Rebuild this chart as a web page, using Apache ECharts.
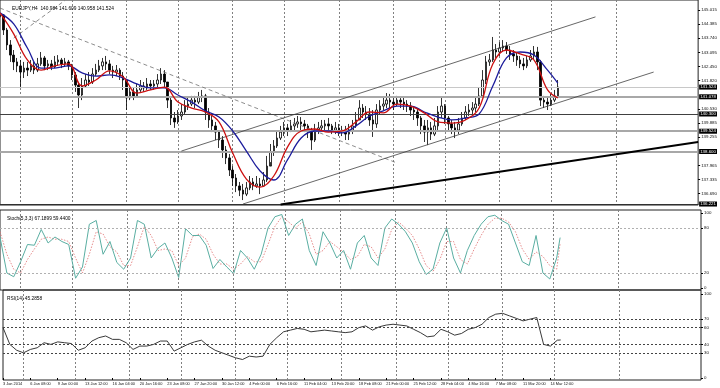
<!DOCTYPE html>
<html><head><meta charset="utf-8">
<script src="https://cdn.jsdelivr.net/npm/echarts@6/dist/echarts.min.js"></script>
<style>html,body{margin:0;padding:0;background:#fff}#c{width:720px;height:388px}</style>
</head><body><div id="c"></div>
<script>
// ---- tick labels ----
const timeLabels = ['3 Jan 2014','6 Jan 08:00','9 Jan 00:00','13 Jan 12:00','16 Jan 04:00','20 Jan 16:00','23 Jan 08:00','27 Jan 20:00','30 Jan 12:00','4 Feb 00:00','6 Feb 16:00','11 Feb 04:00','13 Feb 20:00','18 Feb 08:00','21 Feb 00:00','25 Feb 12:00','28 Feb 04:00','4 Mar 16:00','7 Mar 08:00','11 Mar 20:00','14 Mar 12:00'];
const priceTicks = [136.690,137.335,137.965,139.255,139.885,140.530,141.820,142.450,143.095,143.740,144.385,145.015];
const stochTicks = [0,20,80,100];
const rsiTicks = [0,30,40,60,70,100];
const gridCols = [6,21,37,52,68,83,99,115,130,146,161,180];

// ---- EURJPY H4 price bars ----
const firstOpen = 144.70;
const closes = [144.79,144.11,143.43,142.97,142.66,142.48,142.20,142.38,142.29,142.48,142.29,142.57,142.84,142.48,142.57,142.43,142.66,142.75,142.57,142.66,
142.48,142.07,141.61,141.16,141.57,141.84,141.75,142.11,142.29,142.48,142.66,142.57,142.29,142.20,142.29,142.02,141.84,141.03,141.30,141.12,
141.39,141.57,141.48,141.66,141.57,141.66,141.84,142.11,141.75,140.93,140.12,139.94,140.21,140.39,140.66,140.75,140.93,140.84,141.07,141.12,
140.39,140.03,139.76,139.48,139.12,138.67,138.31,137.76,137.40,137.04,136.85,136.67,136.95,137.22,137.04,137.13,137.04,137.31,137.94,138.58,
138.85,139.21,139.48,139.67,139.57,139.76,139.85,139.94,139.85,139.76,139.57,139.12,139.57,139.67,139.76,139.85,139.76,139.57,139.67,139.48,
139.57,139.39,139.57,139.76,140.03,140.57,140.39,140.30,140.03,139.85,140.48,140.66,140.75,140.93,140.84,140.75,140.93,140.84,140.75,140.66,
140.48,140.39,140.12,139.76,139.48,139.67,139.39,139.76,140.39,140.66,140.12,139.85,139.67,139.57,139.85,140.12,140.39,140.48,140.57,140.75,
141.12,141.84,142.66,142.75,143.20,143.11,143.29,143.38,143.20,143.02,142.93,142.75,142.57,142.48,142.75,142.93,143.11,142.66,140.93,140.84,
140.75,140.93,141.12,141.524];
const highs = [145.01,144.83,144.20,143.65,143.20,142.84,142.75,142.66,142.66,142.75,142.66,142.84,143.11,142.93,142.75,142.75,142.93,142.97,142.84,142.84,
142.75,142.57,142.20,141.75,141.93,142.11,142.20,142.38,142.57,142.75,142.84,142.93,142.75,142.48,142.52,142.38,142.20,141.84,141.57,141.48,
141.66,141.84,141.75,141.93,141.84,141.84,142.11,142.38,142.29,141.75,141.03,140.39,140.48,140.75,140.93,141.03,141.12,141.12,141.30,141.39,
141.21,140.57,140.21,139.94,139.57,139.30,138.85,138.49,137.94,137.58,137.22,137.13,137.22,137.49,137.40,137.49,137.40,137.67,138.40,138.94,
139.12,139.57,139.76,139.94,139.85,140.03,140.12,140.21,140.16,140.03,139.85,139.67,139.85,139.94,140.03,140.03,140.12,139.85,139.94,139.85,
139.76,139.76,139.85,140.03,140.39,140.93,140.75,140.66,140.57,140.48,140.75,140.93,141.03,141.25,141.21,141.03,141.12,141.07,141.03,140.93,
140.84,140.66,140.57,140.21,140.03,140.03,139.94,140.12,140.66,141.07,140.75,140.21,140.03,139.94,140.12,140.39,140.66,140.75,140.84,141.03,
141.48,142.29,142.93,143.02,143.79,143.47,143.56,143.65,143.56,143.38,143.20,143.11,142.93,142.84,142.93,143.20,143.38,143.34,142.75,141.12,
141.03,141.21,141.39,141.84];
const lows = [144.56,143.88,143.20,142.66,142.29,142.20,141.52,141.93,142.02,142.20,142.11,142.20,142.48,142.29,142.29,142.29,142.38,142.48,142.38,142.43,
142.29,141.84,141.30,140.57,140.93,141.48,141.57,141.66,142.02,142.20,142.29,142.29,142.11,141.93,142.02,141.84,141.39,140.48,140.93,140.93,
141.03,141.30,141.30,141.39,141.39,141.39,141.48,141.66,141.48,140.57,139.80,139.67,139.85,140.03,140.30,140.48,140.66,140.57,140.75,140.84,
140.03,139.67,139.48,139.12,138.76,138.31,138.03,137.49,137.04,136.76,136.58,136.40,136.58,136.85,136.85,136.95,136.67,137.04,137.22,138.12,
138.40,138.76,139.12,139.30,139.30,139.48,139.57,139.67,139.57,139.48,139.21,138.67,139.03,139.39,139.48,139.57,139.57,139.39,139.39,139.30,
139.30,139.12,139.12,139.39,139.67,140.12,140.12,140.03,139.76,139.26,139.67,140.30,140.48,140.57,140.57,140.48,140.66,140.57,140.48,140.39,
140.21,140.03,139.76,139.39,139.03,138.89,139.12,139.30,139.57,140.12,139.85,139.57,139.39,139.21,139.39,139.76,140.03,140.21,140.30,140.39,
140.66,141.03,141.66,142.48,142.66,142.84,142.93,143.11,143.02,142.75,142.66,142.48,142.38,142.29,142.38,142.66,142.75,142.29,140.66,140.57,
140.48,140.66,140.84,141.03];

// ---- moving averages (read every 4th bar) ----
const maIdx = [0,4,8,12,16,20,24,28,32,36,40,44,48,52,56,60,64,68,72,76,80,84,88,92,96,100,104,108,112,116,120,124,128,132,136,140,144,148,152,156,160,163];
const maFast = [144.88,143.93,142.75,142.29,142.48,142.57,141.57,141.84,142.25,141.98,141.25,141.39,141.52,140.84,140.57,140.39,139.94,138.53,137.35,136.99,
137.49,138.80,139.53,139.62,139.48,139.53,139.94,140.39,140.35,140.75,140.66,140.35,139.94,139.89,140.03,140.57,142.57,143.20,143.02,142.75,141.39,141.03];
const maSlow = [144.88,144.38,143.29,142.38,142.38,142.48,142.16,142.02,142.07,141.93,141.66,141.48,141.48,141.16,140.84,140.44,140.16,139.53,138.62,137.72,
137.31,138.22,139.21,139.53,139.53,139.44,139.76,140.21,140.44,140.66,140.66,140.39,140.16,140.03,140.12,140.30,141.57,142.84,143.11,142.97,142.29,141.70];

// ---- Stochastic (5,3,3) and RSI(14), read every 2nd bar ----
const indIdx = [0,2,4,6,8,10,12,14,16,18,20,22,24,26,28,30,32,34,36,38,40,42,44,46,48,50,52,54,56,58,60,62,64,66,68,70,72,74,76,78,80,82,84,86,88,90,92,94,96,98,100,102,104,106,108,110,112,114,116,118,120,122,124,126,128,130,132,134,136,138,140,142,144,146,148,150,152,154,156,158,160,162,163];
const stochMain = [68,20,15,35,58,57,78,60,68,62,58,13,28,85,90,45,62,34,25,40,90,85,40,53,60,40,14,79,70,70,57,26,38,28,19,50,40,25,45,80,95,98,70,85,92,50,30,75,60,40,50,25,60,70,40,30,80,92,85,75,60,35,18,25,60,80,40,20,50,70,85,95,97,90,85,60,35,30,70,20,12,40,67.19];
const stochSignal = [75,45,25,20,38,52,65,68,65,65,62,40,20,45,75,72,55,48,30,30,55,82,70,50,52,50,30,40,68,72,65,45,32,32,25,32,42,35,35,58,82,95,88,80,88,72,45,50,62,55,48,38,42,58,55,40,52,78,88,80,70,52,30,22,38,62,62,38,32,52,70,85,93,93,88,75,52,38,48,42,30,25,59.44];
const rsi = [60,40,33,30,34,36,42,40,43,42,41,33,36,44,48,50,46,46,42,34,38,38,40,44,44,32,36,40,43,45,38,33,30,27,24,22,26,25,26,40,48,55,57,59,58,55,56,57,56,55,54,55,60,62,57,61,63,64,63,62,58,54,49,50,58,55,51,53,58,60,64,72,76,77,74,71,68,70,72,40,38,45,45.29];

// ---- drawn objects: horizontal levels and trend lines [barIndex, price] ----
const levels = [
  {v:141.524, color:'#c8c8c8', w:1},
  {v:141.078, color:'#a8a8a8', w:2},
  {v:140.300, color:'#404040', w:1},
  {v:139.524, color:'#a8a8a8', w:2},
  {v:138.600, color:'#a8a8a8', w:2},
  {v:136.221, color:'#303030', w:1}
];
const trendDash = [[0,145.10],[116,138.08]];
const trendDash2 = [[4,143.74],[19,145.45]];
const channelUp = [[53,138.62],[174,144.70]];
const channelLow = [[71,136.22],[191,142.20]];
const supportThick = [[82,136.20],[204,139.03]];

const N = 205;
const cats = Array.from({length:N}, (_, i) => String(i));
const candles = closes.map((c, i) => [i ? closes[i-1] : firstOpen, c, lows[i], highs[i]]);
const pairs = (idx, vals) => idx.map((x, k) => [x, vals[k]]);

const FONT = 'Liberation Sans';
const colSplit = {show:true, interval:(i)=>gridCols.includes(i), lineStyle:{color:'#808080', type:[2,2], width:1}};
function xAx(gi, showLabels){
  return {type:'category', gridIndex:gi, data:cats, boundaryGap:false,
    axisLine:{show:false},
    axisTick:{show:showLabels, interval:(i)=>i%8===0 && i/8<timeLabels.length, length:2, lineStyle:{color:'#000'}},
    axisLabel:{show:showLabels, interval:(i)=>i%8===0 && i/8<timeLabels.length,
      formatter:(v,i)=>timeLabels[i/8]||'', align:'left', fontSize:3.9, fontFamily:FONT, color:'#111', margin:2},
    splitLine:colSplit};
}
function yAx(gi, min, max, ticks, digits){
  return {type:'value', gridIndex:gi, position:'right', min:min, max:max, scale:true,
    axisLine:{show:false},
    axisTick:{show:true, customValues:ticks, length:2, lineStyle:{color:'#000'}},
    axisLabel:{show:true, customValues:ticks, formatter:(v)=>v.toFixed(digits), fontSize:4.4, fontFamily:FONT, color:'#111', margin:3},
    splitLine:{show:false}};
}
const seg = (pts, style) => [{coord:pts[0], lineStyle:style}, {coord:pts[1]}];

const option = {
  animation:false,
  backgroundColor:'#fff',
  title:[
    {text:'EURJPY,H4  140.984 141.609 140.958 141.524', left:7, top:1, textStyle:{fontSize:4.8, fontWeight:'normal', fontFamily:FONT, color:'#000'}},
    {text:'Stoch(5,3,3) 67.1899 59.4400', left:2, top:211, textStyle:{fontSize:4.8, fontWeight:'normal', fontFamily:FONT, color:'#000'}},
    {text:'RSI(14) 45.2858', left:2, top:291, textStyle:{fontSize:4.8, fontWeight:'normal', fontFamily:FONT, color:'#000'}}
  ],
  grid:[
    {left:0, top:0, width:701, height:205, show:true, borderColor:'#222', borderWidth:1, backgroundColor:'#fff'},
    {left:0, top:210, width:701, height:80, show:true, borderColor:'#222', borderWidth:1},
    {left:0, top:290, width:701, height:90, show:true, borderColor:'#222', borderWidth:1}
  ],
  xAxis:[xAx(0,false), xAx(1,false), xAx(2,true)],
  yAxis:[
    yAx(0, 136.176, 145.466, priceTicks, 3),
    yAx(1, -2.67, 104, stochTicks, 0),
    yAx(2, -2.38, 104.76, rsiTicks, 0)
  ],
  series:[
    {type:'candlestick', xAxisIndex:0, yAxisIndex:0, data:candles, barWidth:2,
      itemStyle:{color:'#ffffff', color0:'#000000', borderColor:'#000000', borderColor0:'#000000', borderWidth:0.8},
      markLine:{silent:true, symbol:['none','none'], animation:false, label:{show:false},
        data:[
          ...levels.map(l => ({yAxis:l.v, lineStyle:{color:l.color, width:l.w, type:'solid'},
            label:{show:true, position:'end', distance:1, formatter:l.v.toFixed(3), backgroundColor:'#000', color:'#fff',
              fontSize:4.4, fontFamily:FONT, padding:[1,1,0,1]}})),
          seg(trendDash, {color:'#707070', width:0.8, type:[4,3]}),
          seg(trendDash2, {color:'#707070', width:0.8, type:[4,3]}),
          seg(channelUp, {color:'#404040', width:0.8, type:'solid'}),
          seg(channelLow, {color:'#404040', width:0.8, type:'solid'}),
          seg(supportThick, {color:'#000', width:2, type:'solid'})
        ]}},
    {type:'line', xAxisIndex:0, yAxisIndex:0, data:pairs(maIdx, maSlow), smooth:0.4, showSymbol:false,
      lineStyle:{color:'#1c1c9c', width:1.3}, z:5},
    {type:'line', xAxisIndex:0, yAxisIndex:0, data:pairs(maIdx, maFast), smooth:0.4, showSymbol:false,
      lineStyle:{color:'#cc1010', width:1.3}, z:6},
    {type:'line', xAxisIndex:1, yAxisIndex:1, data:pairs(indIdx, stochSignal), showSymbol:false,
      lineStyle:{color:'#e07070', width:0.8, type:[1.5,1.5]},
      markLine:{silent:true, symbol:['none','none'], label:{show:false},
        data:[{yAxis:80},{yAxis:20}], lineStyle:{color:'#b0b0b0', type:[2,2], width:1}}},
    {type:'line', xAxisIndex:1, yAxisIndex:1, data:pairs(indIdx, stochMain), showSymbol:false,
      lineStyle:{color:'#5aaea2', width:1}},
    {type:'line', xAxisIndex:2, yAxisIndex:2, data:pairs(indIdx, rsi), showSymbol:false,
      lineStyle:{color:'#222', width:0.9},
      markLine:{silent:true, symbol:['none','none'], label:{show:false},
        data:[{yAxis:70},{yAxis:60},{yAxis:40},{yAxis:30}], lineStyle:{color:'#444', type:[2,2], width:1}}}
  ]
};
const chart = echarts.init(document.getElementById('c'), null, {renderer:'canvas'});
chart.setOption(option);
</script></body></html>
